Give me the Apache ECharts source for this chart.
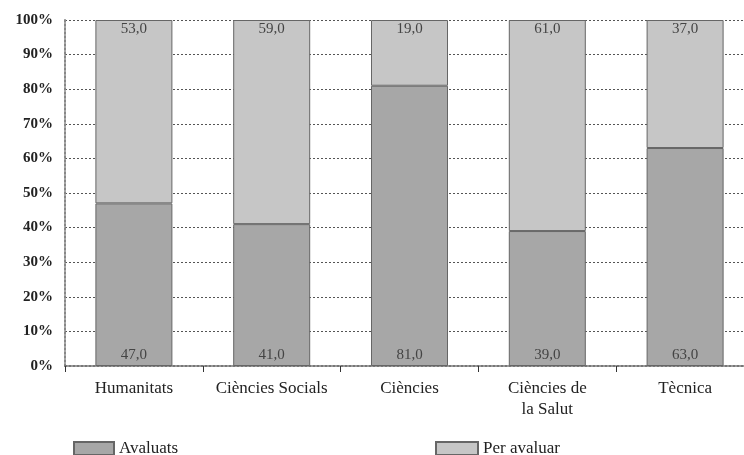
<!DOCTYPE html>
<html>
<head>
<meta charset="utf-8">
<script src="https://cdn.jsdelivr.net/npm/echarts@6/dist/echarts.min.js"></script>
<style>
html,body{margin:0;padding:0;background:#fff;overflow:hidden;width:744px;height:455px;}
#c{width:760px;height:455px;}
</style>
</head>
<body>
<div id="c"></div>
<script>
const categories = ['Humanitats', 'Ciències Socials', 'Ciències', 'Ciències de\nla Salut', 'Tècnica'];
const avaluats = [47.0, 41.0, 81.0, 39.0, 63.0];
const perAvaluar = [53.0, 59.0, 19.0, 61.0, 37.0];
const yTicks = [0, 10, 20, 30, 40, 50, 60, 70, 80, 90, 100];

const serif = '"Liberation Serif", "DejaVu Serif", serif';
const fmt = v => v.toFixed(1).replace('.', ',');

const chart = echarts.init(document.getElementById('c'), null, {renderer: 'canvas'});
chart.setOption({
  backgroundColor: '#ffffff',
  animation: false,
  grid: {left: 65, right: 6, top: 20, height: 346, containLabel: false},
  legend: [
    {
      data: ['Avaluats'], left: 68, top: 435, itemWidth: 40, itemHeight: 13, itemGap: 10,
      textStyle: {fontFamily: serif, fontSize: 17, color: '#222'}, icon: 'rect'
    },
    {
      data: ['Per avaluar'], left: 430, top: 435, itemWidth: 42, itemHeight: 13, itemGap: 6,
      textStyle: {fontFamily: serif, fontSize: 17, color: '#222'}, icon: 'rect'
    }
  ],
  xAxis: {
    type: 'category',
    data: categories,
    axisLine: {show: true, lineStyle: {color: '#777', type: 'dotted', width: 2}},
    axisTick: {show: true, interval: 0, length: 6, lineStyle: {color: '#333'}},
    axisLabel: {interval: 0, fontFamily: serif, fontSize: 17, color: '#222', margin: 12, lineHeight: 21}
  },
  yAxis: {
    type: 'value',
    min: yTicks[0],
    max: yTicks[yTicks.length - 1],
    interval: 10,
    axisLine: {show: true, lineStyle: {color: '#888', type: 'dotted', width: 2}},
    axisTick: {show: false},
    axisLabel: {fontFamily: serif, fontSize: 15, color: '#222', margin: 12, fontWeight: 'bold', formatter: '{value}%'},
    splitLine: {show: true, lineStyle: {color: '#555', type: [2, 2], width: 1}}
  },
  series: [
    {
      name: 'Avaluats', type: 'bar', stack: 's', barWidth: 77,
      data: avaluats,
      itemStyle: {color: '#a7a7a7', borderColor: '#666', borderWidth: 1},
      label: {show: true, position: 'insideBottom', distance: 3, formatter: p => fmt(p.value),
              fontFamily: serif, fontSize: 15, color: '#444'}
    },
    {
      name: 'Per avaluar', type: 'bar', stack: 's', barWidth: 77,
      data: perAvaluar,
      itemStyle: {color: '#c6c6c6', borderColor: '#666', borderWidth: 1},
      label: {show: true, position: 'insideTop', distance: 2, formatter: p => fmt(p.value),
              fontFamily: serif, fontSize: 15, color: '#444'}
    }
  ]
});
</script>
</body>
</html>
